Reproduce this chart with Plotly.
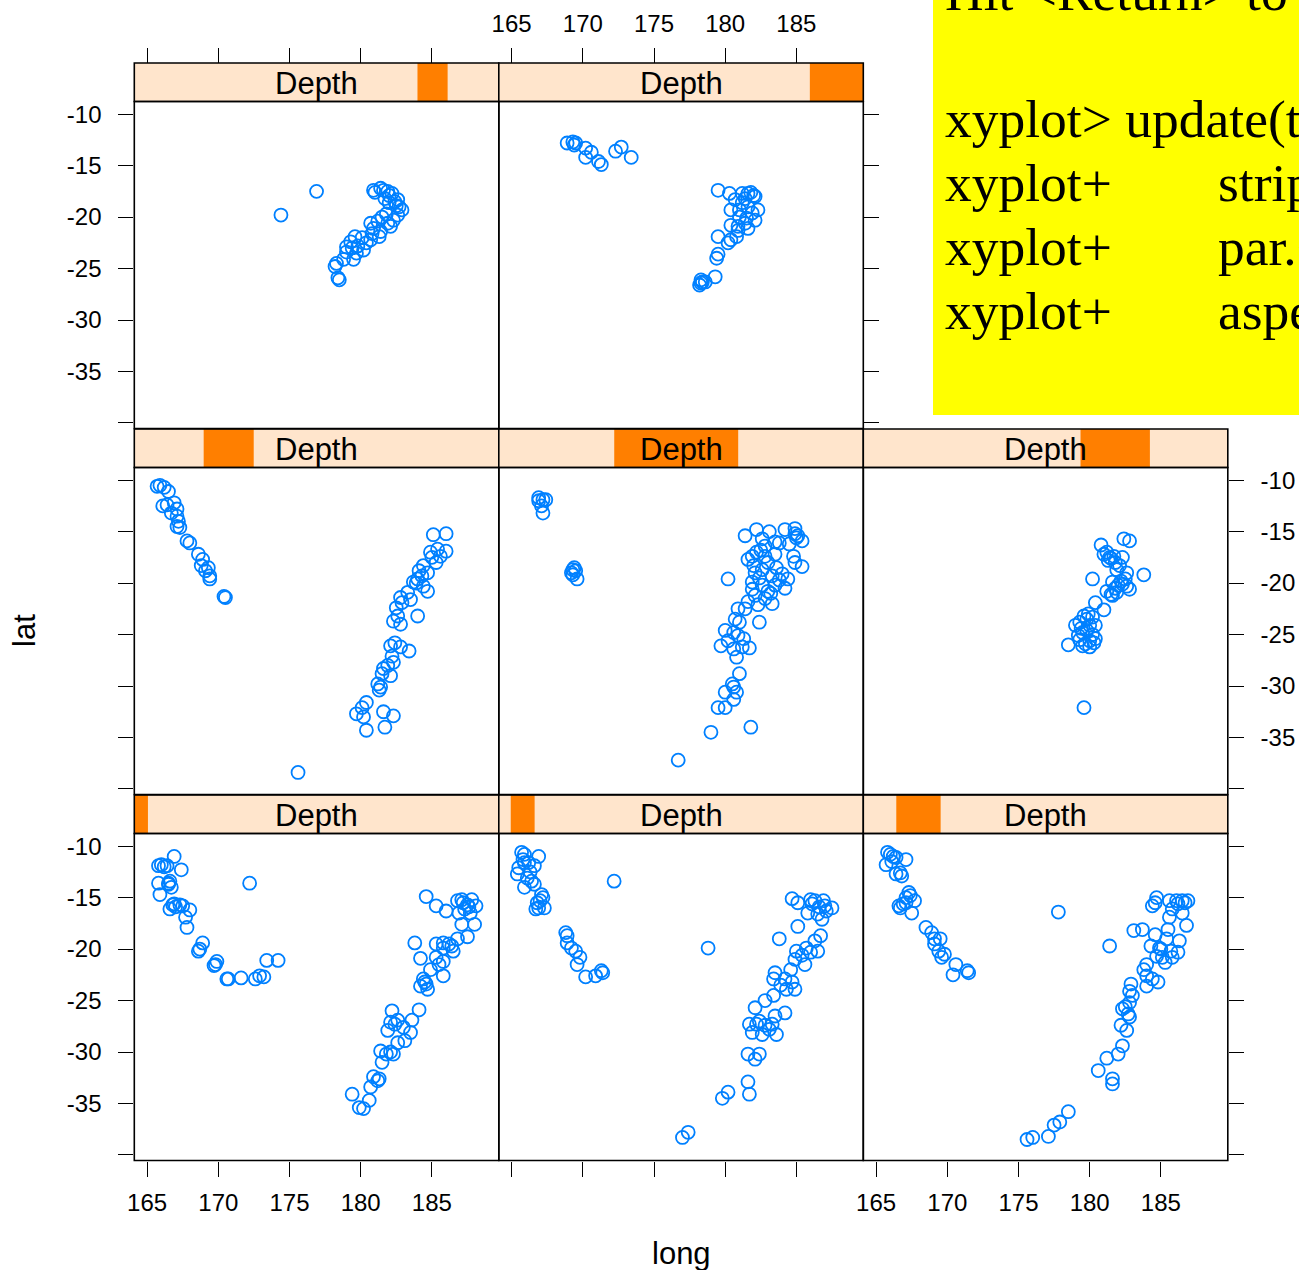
import plotly.graph_objects as go

W, H = 1299, 1270

# ---------------- data ----------------
depth_low = [39.5, 60.5, 97.5, 161.5, 242.5, 421.5, 537.5, 586.5]
depth_high = [63.5, 102.5, 175.5, 249.5, 460.5, 543.5, 590.5, 680.5]
strip_label = "Depth"

long_ticks = [165, 170, 175, 180, 185]
long_tick_text = ["165", "170", "175", "180", "185"]
lat_ticks = [-10, -15, -20, -25, -30, -35, -40]
lat_tick_text = ["-10", "-15", "-20", "-25", "-30", "-35", ""]
long_limits = [164.10, 189.70]
lat_limits = [-40.54, -8.77]

# (long, lat) per panel, lattice order: bottom-left first, left->right, bottom->top
panel1 = [
    (165.8, -11.9), (166.0, -11.8), (166.4, -11.9), (166.9, -11.0), (167.4, -12.3), (165.8, -13.6),
    (166.5, -13.6), (166.5, -13.7), (165.9, -14.7), (166.7, -14.0), (166.8, -15.7), (167.3, -15.7),
    (166.6, -16.1), (167.5, -15.8), (168.0, -16.2), (167.7, -16.9), (167.8, -17.9), (168.7, -20.0),
    (168.9, -19.4), (168.6, -20.2), (169.8, -21.5), (169.9, -21.2), (169.7, -21.6), (170.6, -22.9),
    (170.7, -22.9), (171.6, -22.8), (172.6, -22.9), (172.9, -22.6), (173.2, -22.7), (173.4, -21.1),
    (174.2, -21.1), (172.2, -13.6), (166.2, -12.0), (166.6, -13.4), (166.9, -15.6), (167.0, -15.9),
    (184.6, -14.9), (185.3, -15.8), (186.0, -16.3), (186.8, -15.3), (187.1, -15.2), (187.5, -15.7),
    (187.8, -15.2), (188.1, -15.8), (187.3, -16.1), (187.7, -16.5), (186.9, -16.5), (187.1, -17.6),
    (188.0, -17.6), (187.5, -18.8), (186.8, -19.0), (186.2, -19.5), (185.8, -19.4), (185.3, -19.5),
    (186.5, -20.2), (185.8, -19.9), (183.8, -19.4), (184.2, -20.9), (185.3, -20.8), (185.5, -21.5),
    (185.8, -21.2), (184.9, -22.0), (185.8, -22.6), (184.4, -22.9), (184.2, -23.6), (184.6, -23.4),
    (184.7, -23.9), (182.2, -26.0), (184.1, -25.9), (183.6, -26.9), (182.1, -27.1), (182.4, -27.3),
    (181.9, -27.9), (183.5, -28.1), (183.1, -28.9), (182.6, -29.1), (182.1, -30.0), (181.4, -29.9),
    (181.5, -31.0), (182.3, -30.2), (181.3, -32.6), (180.9, -32.4), (180.7, -33.4), (180.6, -34.7),
    (179.4, -34.1), (179.9, -35.4), (180.2, -35.5), (187.2, -15.5), (187.6, -15.9), (186.4, -19.7),
    (184.5, -23.2), (182.6, -26.9), (183.0, -27.6), (181.8, -30.2), (181.2, -32.8),
]
panel2 = [
    (165.7, -10.6), (165.9, -10.8), (165.8, -11.3), (166.2, -11.6), (166.9, -11.0), (166.6, -11.9),
    (165.5, -12.1), (165.4, -12.7), (166.1, -13.1), (166.4, -13.4), (166.6, -13.7), (165.9, -14.0),
    (167.1, -14.7), (167.2, -15.0), (166.8, -15.5), (166.9, -16.0), (167.3, -16.0), (166.7, -16.1),
    (172.2, -13.4), (168.8, -18.4), (168.9, -18.7), (168.9, -19.4), (169.2, -19.9), (169.5, -20.2),
    (169.8, -20.8), (169.6, -21.5), (170.2, -22.7), (170.9, -22.6), (171.4, -22.3), (171.3, -22.1),
    (184.7, -15.1), (185.1, -15.5), (186.0, -15.2), (186.3, -15.3), (186.9, -15.3), (187.5, -16.0),
    (185.8, -16.5), (186.5, -16.6), (187.1, -16.3), (186.8, -17.1), (185.1, -17.8), (183.8, -19.0),
    (186.7, -18.7), (186.3, -19.2), (185.7, -19.9), (185.0, -20.2), (186.0, -20.3), (186.5, -20.2),
    (184.9, -21.0), (185.6, -21.5), (184.6, -22.0), (183.5, -22.3), (183.4, -22.9), (184.2, -22.9),
    (184.7, -23.2), (184.9, -23.9), (184.3, -23.9), (183.4, -24.5), (182.8, -25.0), (182.1, -25.7),
    (184.2, -26.2), (183.5, -26.5), (181.7, -27.3), (182.2, -27.3), (182.8, -27.4), (183.3, -27.3),
    (183.6, -28.3), (181.9, -28.1), (182.6, -28.3), (181.6, -30.2), (182.1, -30.7), (182.4, -30.2),
    (181.6, -32.9), (181.7, -34.1), (180.2, -33.9), (179.8, -34.5), (177.0, -38.3), (177.4, -37.8),
    (178.8, -19.9), (186.1, -15.6), (186.6, -15.9), (187.0, -15.8), (185.4, -20.6), (183.9, -23.5),
    (182.4, -27.0), (183.1, -27.8), (165.9, -11.6), (166.3, -12.5), (167.0, -15.3),
]
panel3 = [
    (165.8, -10.6), (166.0, -10.8), (166.4, -11.1), (167.1, -11.3), (165.7, -11.8), (166.1, -11.5),
    (166.4, -12.7), (166.8, -12.9), (166.7, -12.6), (167.3, -14.5), (167.1, -15.0), (167.4, -14.8),
    (167.7, -15.3), (166.7, -16.0), (166.6, -15.8), (167.5, -16.5), (167.1, -15.5), (168.5, -17.9),
    (168.9, -18.4), (169.1, -19.0), (169.5, -19.0), (169.1, -19.5), (169.4, -20.2), (169.8, -20.5),
    (169.6, -20.8), (170.6, -21.5), (170.4, -22.5), (171.5, -22.3), (171.4, -22.1), (177.8, -16.4),
    (181.4, -19.7), (184.7, -15.0), (184.4, -15.8), (184.6, -15.5), (185.6, -15.3), (186.1, -15.3),
    (186.5, -15.3), (186.9, -15.3), (185.8, -16.1), (186.5, -16.5), (185.6, -16.9), (186.8, -17.7),
    (183.1, -18.2), (183.7, -18.1), (184.6, -18.6), (185.5, -18.1), (185.4, -19.0), (186.3, -19.2),
    (184.3, -19.7), (184.9, -19.9), (185.7, -20.2), (186.2, -20.3), (184.7, -20.7), (185.1, -20.8),
    (185.8, -20.8), (184.0, -21.5), (183.8, -22.0), (185.3, -21.3), (184.0, -22.6), (184.4, -22.9),
    (184.8, -23.2), (184.0, -23.6), (182.9, -23.4), (182.8, -24.1), (183.0, -24.5), (182.8, -25.2),
    (182.3, -25.8), (182.7, -26.3), (182.8, -26.6), (182.2, -27.4), (182.6, -27.9), (182.3, -29.4),
    (182.0, -30.2), (181.2, -30.6), (180.6, -31.8), (181.6, -32.6), (181.6, -33.1), (178.5, -35.8),
    (177.9, -36.8), (177.5, -37.1), (177.1, -38.2), (176.0, -38.3), (175.6, -38.5), (186.2, -15.6),
    (186.7, -15.5), (185.0, -20.0), (182.5, -25.6), (166.9, -15.6), (166.2, -11.0),
]
panel4 = [
    (165.7, -10.6), (165.9, -10.5), (166.2, -10.7), (166.5, -11.1), (166.1, -12.5), (166.4, -12.4),
    (166.9, -12.2), (167.1, -12.8), (166.7, -13.2), (167.1, -13.5), (167.2, -14.0), (167.3, -14.6),
    (167.1, -14.5), (167.8, -15.9), (168.0, -16.1), (168.6, -17.2), (168.9, -17.7), (168.8, -18.3),
    (169.3, -18.5), (169.1, -18.8), (169.4, -19.3), (169.4, -19.6), (170.5, -21.4), (170.4, -21.3),
    (175.6, -38.4), (185.1, -15.3), (186.0, -15.2), (185.4, -16.7), (186.0, -16.9), (185.6, -17.4),
    (185.0, -17.5), (185.3, -18.0), (184.4, -18.3), (184.1, -18.8), (184.7, -19.0), (184.0, -19.6),
    (183.7, -19.9), (184.4, -20.3), (184.7, -20.8), (183.3, -20.9), (182.8, -21.4), (183.5, -21.6),
    (182.9, -21.9), (184.0, -23.2), (182.6, -23.2), (182.3, -23.7), (182.8, -24.0), (182.4, -25.8),
    (182.1, -26.1), (182.8, -26.2), (183.4, -26.6), (182.2, -27.1), (182.3, -27.7), (181.9, -28.0),
    (181.6, -28.3), (182.1, -29.0), (181.5, -28.8), (181.2, -29.8), (181.3, -30.4), (181.4, -30.1),
    (180.4, -31.6), (180.1, -32.1), (179.7, -32.7), (180.2, -33.0), (181.6, -32.5), (182.3, -32.9),
    (181.7, -34.0), (180.4, -34.3), (184.9, -17.0), (184.3, -19.3), (183.9, -20.0), (182.5, -22.4),
]
panel5 = [
    (166.9, -12.0), (167.2, -11.9), (167.4, -11.9), (167.1, -12.5), (167.2, -13.2), (169.3, -18.7),
    (169.5, -18.8), (169.2, -19.0), (169.6, -19.6), (169.4, -18.5), (180.2, -19.6), (182.4, -23.8),
    (181.8, -34.0), (179.0, -34.5), (176.7, -37.2), (181.4, -15.4), (182.2, -14.8), (183.1, -15.0),
    (184.2, -14.8), (184.9, -14.7), (185.1, -15.4), (185.4, -15.9), (183.8, -16.1), (182.6, -15.7),
    (182.8, -16.4), (181.9, -17.4), (181.6, -17.7), (182.2, -17.0), (182.8, -17.4), (183.5, -17.2),
    (184.8, -17.4), (184.9, -18.0), (185.4, -18.4), (182.1, -19.0), (182.6, -18.7), (183.3, -19.3),
    (184.0, -19.1), (184.4, -19.6), (181.9, -19.9), (182.6, -20.2), (183.5, -20.2), (184.2, -20.5),
    (182.1, -21.2), (182.8, -21.5), (183.3, -22.0), (181.6, -21.8), (182.3, -22.1), (181.4, -22.5),
    (180.9, -22.5), (180.7, -23.5), (181.0, -23.8), (180.0, -24.6), (180.6, -24.8), (180.9, -25.1),
    (180.2, -25.6), (179.7, -26.1), (181.3, -25.4), (181.7, -26.3), (181.2, -26.2), (180.8, -27.2),
    (181.0, -28.8), (180.6, -30.1), (180.0, -30.6), (180.8, -30.6), (180.6, -31.3), (179.5, -32.1),
    (180.0, -32.1), (183.0, -18.0), (183.6, -18.5), (182.4, -19.5), (183.0, -20.8), (183.8, -19.7),
    (182.0, -18.3), (184.9, -15.2), (185.0, -15.6), (183.5, -16.0), (184.5, -16.2), (182.5, -16.8),
    (183.2, -21.0), (181.9, -20.6), (180.6, -26.4), (180.5, -29.8), (166.9, -11.7), (169.3, -19.2),
]
panel6 = [
    (180.8, -16.3), (182.4, -15.7), (182.8, -15.9), (182.3, -17.5), (181.0, -17.2), (181.4, -17.5),
    (181.3, -17.8), (181.7, -17.4), (182.1, -18.3), (181.9, -18.7), (182.6, -19.0), (180.2, -19.6),
    (183.8, -19.2), (181.6, -19.9), (182.2, -19.8), (182.6, -20.3), (182.8, -20.6), (181.2, -20.8),
    (181.5, -21.1), (181.9, -20.9), (180.4, -21.9), (181.0, -22.6), (179.6, -23.2), (180.2, -23.3),
    (179.3, -23.8), (179.0, -24.1), (180.0, -24.1), (180.4, -24.1), (179.5, -24.8), (180.2, -25.0),
    (179.2, -25.1), (180.4, -25.4), (178.5, -26.0), (179.5, -26.1), (180.0, -26.2), (180.3, -25.8),
    (179.6, -32.1), (181.2, -17.0), (181.5, -17.6), (181.8, -18.0), (182.3, -20.1), (181.8, -20.5),
    (182.5, -19.6), (179.8, -23.5), (179.4, -24.4), (179.8, -24.6), (180.0, -25.6), (179.7, -25.9),
    (179.3, -25.5), (179.9, -23.0), (182.0, -20.2), (181.6, -21.2),
]
panel7 = [
    (174.4, -19.8), (176.9, -17.5), (180.9, -17.4), (181.4, -17.2), (181.9, -17.5), (182.2, -17.7),
    (182.6, -18.3), (182.7, -19.0), (182.9, -19.3), (182.6, -19.8), (182.3, -20.3), (182.1, -20.9),
    (181.9, -20.6), (181.4, -21.4), (180.7, -20.6), (180.9, -21.1), (181.3, -21.9), (180.7, -22.2),
    (180.4, -22.5), (179.6, -21.9), (179.3, -22.4), (179.0, -22.9), (180.2, -23.2), (179.7, -23.5),
    (179.5, -24.1), (179.0, -23.4), (178.8, -24.1), (178.3, -24.5), (178.2, -24.8), (178.5, -26.1),
    (178.4, -25.9), (181.0, -17.6), (181.6, -17.4), (182.0, -17.9), (182.4, -18.5), (182.5, -18.9),
    (181.8, -19.7), (181.5, -20.0), (181.2, -20.4), (180.8, -21.6), (180.1, -22.0), (179.8, -22.8),
    (179.4, -23.0), (182.0, -18.6), (181.7, -18.2),
]
panel8 = [
    (168.9, -12.8), (169.3, -12.7), (169.5, -12.8), (169.4, -13.0), (170.2, -13.3), (170.6, -13.7),
    (170.2, -14.2), (171.1, -14.6), (171.3, -14.9), (172.3, -13.6), (172.7, -13.2), (173.4, -14.2),
    (179.5, -17.4), (180.3, -17.7), (181.2, -17.7), (181.6, -17.7), (182.1, -18.0), (181.4, -18.2),
    (180.7, -18.3), (180.4, -19.3), (181.0, -19.3), (182.3, -19.3), (181.9, -19.6), (181.5, -20.1),
    (182.1, -20.3), (180.4, -20.8), (180.9, -20.9), (181.4, -20.6), (181.6, -21.1), (180.8, -21.9),
    (180.4, -22.2), (179.5, -21.9), (180.2, -22.5), (179.4, -24.0), (179.5, -23.6), (179.3, -25.8),
    (178.3, -26.1), (178.2, -26.6), (178.6, -26.3), (181.8, -17.6), (182.0, -17.9), (181.2, -18.6),
    (181.0, -20.0), (181.6, -19.0), (180.9, -21.3), (178.4, -26.3), (178.3, -26.4),
]
panels = [panel1, panel2, panel3, panel4, panel5, panel6, panel7, panel8]

console_first = ["Hit &lt;Return&gt; to see next plot:", "xyplot&gt; update(trellis.last.object(),",
                 "xyplot+", "xyplot+", "xyplot+"]
console_rest = ["", "", "strip = strip.custom(strip.names = TRUE, strip.levels = TRUE),",
                "par.strip.text = list(cex = 1.5),", "aspect = \"iso\")"]

# ---------------- geometry (pixels) ----------------
col_left = [134.3, 498.8, 863.3]
panel_w = 364.5
row_top = [795.0, 429.0, 63.0]   # strip tops, layout rows from bottom
strip_h = 38.5
panel_h = 327.0


def fx(px):
    return px / W


def fy(py):
    return 1 - py / H


sans = "Liberation Sans, Arial, Helvetica, sans-serif"
serif = "Liberation Serif, Times New Roman, serif"
tick_font = dict(family=sans, size=24, color="black")

# (x side, x ticks, x labels, y side, y ticks, y labels)
axis_spec = [
    ("bottom", True, True, "left", True, True),
    ("bottom", True, False, "left", False, False),
    ("bottom", True, True, "right", True, False),
    ("bottom", False, False, "left", True, False),
    ("bottom", False, False, "left", False, False),
    ("bottom", False, False, "right", True, True),
    ("top", True, False, "left", True, True),
    ("top", True, True, "right", True, False),
]

fig = go.Figure()
shapes = []
annotations = []
layout_axes = {}
dmin, dmax = min(depth_low), max(depth_high)

for i, pts in enumerate(panels):
    col, row = i % 3, i // 3
    x0 = col_left[col]
    x1 = x0 + panel_w
    st = row_top[row]
    pt = st + strip_h
    pb = pt + panel_h
    n = "" if i == 0 else str(i + 1)
    fig.add_trace(go.Scatter(
        x=[p[0] for p in pts], y=[p[1] for p in pts], mode="markers",
        marker=dict(symbol="circle-open", size=13, color="#0080ff", line=dict(width=1.8)),
        xaxis="x" + n, yaxis="y" + n, showlegend=False, cliponaxis=True))
    xs, xt, xl, ys, yt, yl = axis_spec[i]
    xa = dict(domain=[fx(x0), fx(x1)], range=long_limits, tickmode="array",
              tickvals=long_ticks, ticktext=long_tick_text,
              ticks="outside" if xt else "", ticklen=15, tickwidth=1.4, tickcolor="black",
              showticklabels=xl, side=xs, showgrid=False, zeroline=False, showline=False,
              tickfont=tick_font, automargin=False, fixedrange=True, ticklabelstandoff=6)
    if xs == "top":
        xa.update(anchor="free", position=fy(st))
    else:
        xa.update(anchor="y" + n)
    ya = dict(domain=[fy(pb), fy(pt)], range=lat_limits, tickmode="array",
              tickvals=lat_ticks, ticktext=lat_tick_text,
              ticks="outside" if yt else "", ticklen=15, tickwidth=1.4, tickcolor="black",
              showticklabels=yl, side=ys, showgrid=False, zeroline=False, showline=False,
              tickfont=tick_font, automargin=False, fixedrange=True, anchor="x" + n,
              ticklabelstandoff=12)
    layout_axes["xaxis" + n] = xa
    layout_axes["yaxis" + n] = ya

    # strip
    shapes.append(dict(type="rect", xref="paper", yref="paper", x0=fx(x0), x1=fx(x1),
                       y0=fy(pt), y1=fy(st), fillcolor="#FFE5CC", line=dict(width=0), layer="above"))
    lo = x0 + (depth_low[i] - dmin) / (dmax - dmin) * panel_w
    hi = x0 + (depth_high[i] - dmin) / (dmax - dmin) * panel_w
    shapes.append(dict(type="rect", xref="paper", yref="paper", x0=fx(lo), x1=fx(hi),
                       y0=fy(pt), y1=fy(st), fillcolor="#FF7F00", line=dict(width=0), layer="above"))
    shapes.append(dict(type="rect", xref="paper", yref="paper", x0=fx(x0), x1=fx(x1),
                       y0=fy(pt), y1=fy(st), fillcolor="rgba(0,0,0,0)",
                       line=dict(width=1.6, color="black"), layer="above"))
    # panel frame
    shapes.append(dict(type="rect", xref="paper", yref="paper", x0=fx(x0), x1=fx(x1),
                       y0=fy(pb), y1=fy(pt), fillcolor="rgba(0,0,0,0)",
                       line=dict(width=1.6, color="black"), layer="above"))
    annotations.append(dict(text=strip_label, xref="paper", yref="paper",
                            x=fx((x0 + x1) / 2), y=fy(st + strip_h / 2 + 1),
                            xanchor="center", yanchor="middle", showarrow=False,
                            font=dict(family=sans, size=31, color="black")))

# axis titles
annotations.append(dict(text="lat", xref="paper", yref="paper", x=fx(25), y=fy(631),
                        textangle=-90, xanchor="center", yanchor="middle", showarrow=False,
                        font=dict(family=sans, size=31, color="black")))
annotations.append(dict(text="long", xref="paper", yref="paper", x=fx(681), y=fy(1253),
                        xanchor="center", yanchor="middle", showarrow=False,
                        font=dict(family=sans, size=31, color="black")))

# yellow console box
shapes.append(dict(type="rect", xref="paper", yref="paper", x0=fx(933), x1=fx(1320),
                   y0=fy(415), y1=fy(-20), fillcolor="#FFFF00", line=dict(width=0), layer="below"))
line_mid = [-8, 119, 183, 247, 311]
for k in range(len(console_first)):
    annotations.append(dict(text=console_first[k], xref="paper", yref="paper",
                            x=fx(943), y=fy(line_mid[k]), xanchor="left", yanchor="middle",
                            showarrow=False, font=dict(family=serif, size=53.5, color="black")))
    if console_rest[k]:
        annotations.append(dict(text=console_rest[k], xref="paper", yref="paper",
                                x=fx(1216), y=fy(line_mid[k]), xanchor="left", yanchor="middle",
                                showarrow=False, font=dict(family=serif, size=53.5, color="black")))

fig.update_layout(
    width=W, height=H, margin=dict(l=0, r=0, t=0, b=0),
    template="none", paper_bgcolor="white", plot_bgcolor="white",
    shapes=shapes, annotations=annotations, showlegend=False, hovermode="closest",
    **layout_axes)

fig.write_html("out.html")
